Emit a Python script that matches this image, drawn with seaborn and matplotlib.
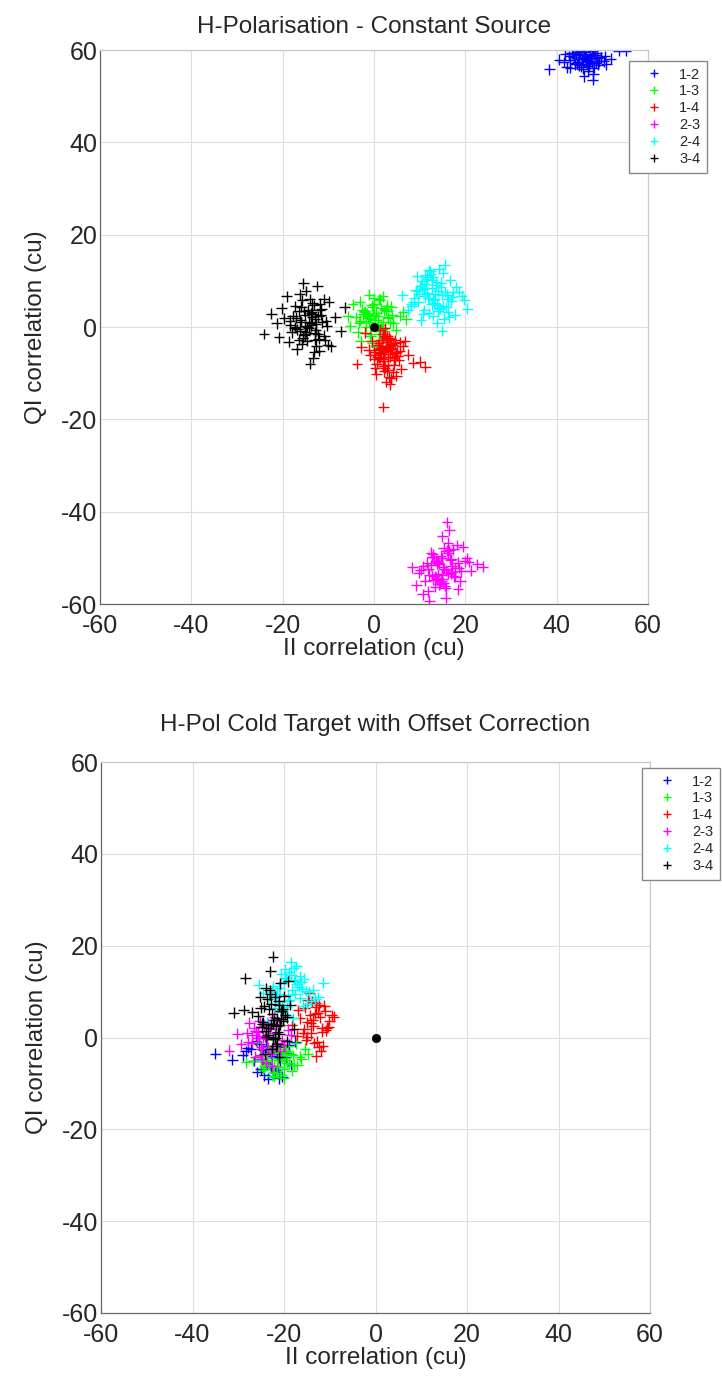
import pandas as pd
import numpy as np
import matplotlib.pyplot as plt
import seaborn as sns

# pair labels and MATLAB-style colours
pairs = ['1-2', '1-3', '1-4', '2-3', '2-4', '3-4']
pair_colors = {'1-2': '#0000ff', '1-3': '#00ff00', '1-4': '#ff0000',
               '2-3': '#ff00ff', '2-4': '#00ffff', '3-4': '#000000'}

# ---- top panel: H-Polarisation, constant source ----
top_12_x = [46.2, 44.1, 48.5, 42.8, 50.3, 45.4, 47.7, 40.6, 49.1, 43.5,
            46.9, 51.8, 44.8, 47.2, 38.4, 48.0, 45.9, 53.6, 43.0, 46.5,
            49.7, 41.9, 47.9, 44.4, 45.1, 50.9, 46.0, 42.2, 48.8, 55.2,
            45.8, 47.3, 44.6, 48.9, 46.4, 43.7, 47.8, 45.2, 49.6, 46.9,
            44.0, 48.2, 45.5, 47.0, 42.9, 46.1, 48.6, 44.9, 47.5, 45.0,
            50.6, 46.7, 43.3, 47.9, 45.7, 49.2, 46.3, 44.3, 48.1, 41.5]
top_12_y = [58.3, 57.1, 59.0, 58.7, 57.6, 56.4, 58.9, 57.9, 56.8, 59.3,
            55.5, 58.1, 59.6, 57.4, 55.8, 54.9, 58.5, 59.8, 56.1, 57.8,
            58.4, 59.1, 53.6, 57.0, 59.7, 56.9, 54.3, 56.3, 59.4, 59.9,
            58.0, 58.8, 57.5, 58.2, 59.2, 58.6, 57.2, 59.5, 58.4, 57.7,
            56.9, 59.0, 58.1, 56.5, 57.8, 59.6, 57.3, 58.9, 58.3, 56.7,
            58.7, 57.0, 59.3, 59.8, 55.9, 57.6, 58.5, 59.1, 56.2, 57.4]

top_13_x = [0.3, -2.1, 1.8, -4.0, 2.9, -0.8, 4.2, -3.1, 1.1, -1.5,
            3.5, -5.2, 0.0, 2.4, -2.6, 5.6, -0.4, 1.6, -3.6, 3.0,
            -1.0, 0.9, 6.4, -4.6, 2.0, -1.8, 4.8, -0.1, 1.3, -2.9,
            3.8, 0.6, -5.8, 2.7, -0.6, 7.1, 1.9, -3.3, 0.4, -1.3,
            0.8, -1.2, 2.2, -0.3, 1.5, -2.4, 3.1, 0.1, -1.7, 2.6,
            -0.9, 1.0, -3.0, 0.5, 2.0, -0.5, 4.0, -2.0, 1.2, -1.1]
top_13_y = [1.5, 3.2, -0.4, 2.1, 4.6, -1.9, 0.8, 5.5, -2.7, 2.9,
            1.0, 0.2, 6.3, -0.9, 3.8, 2.4, -3.4, 4.1, -1.1, 1.9,
            7.0, 0.5, 3.3, 4.9, -2.2, 1.2, -0.6, 2.6, 5.9, -3.0,
            4.4, 0.0, 2.3, 3.5, -1.5, 1.7, 6.7, 0.9, -4.1, 2.0,
            2.4, 1.1, 3.6, 4.3, 0.5, 2.8, 2.2, 5.0, 0.0, 3.9,
            1.8, 6.1, 1.4, 3.0, 1.0, 4.7, 2.7, 3.4, -0.8, 2.5]

top_14_x = [2.5, 4.1, 0.8, 3.6, -1.2, 5.4, 1.9, 3.0, 6.3, -0.5,
            2.2, 4.8, 1.4, 7.5, 3.3, -2.8, 2.9, 5.0, 0.2, 4.4,
            1.1, 8.6, 2.7, -1.9, 3.9, 6.0, 1.6, 2.0, 4.6, -3.7,
            3.1, 0.5, 5.7, 2.4, 10.1, 1.8, 3.5, -0.9, 4.2, 2.6,
            11.2, 1.0, 3.8, 6.8, 0.0, 2.3, 1.3, 4.9,
            2.1, 3.4, 1.2, 4.0, 2.8, 0.6, 3.7, 1.7, 5.1, 2.4,
            3.1, 0.9, 4.5, 1.5, 2.9, 3.8, 0.3, 2.6, 4.3, 1.9,
            3.2, 5.6, 1.0, 2.2, 3.6, 0.1, 4.7, 2.0, 3.0, 1.4]
top_14_y = [-5.1, -3.8, -6.4, -2.6, -4.9, -7.2, -1.5, -8.3, -4.0, -3.1,
            -9.6, -5.7, -0.6, -6.0, -10.8, -4.4, -2.0, -5.3, -8.9, -6.8,
            -3.5, -7.7, -11.9, -1.2, -4.7, -9.1, -5.9, -17.3, -2.9, -8.0,
            -6.5, -10.2, -3.3, -0.2, -7.5, -4.2, -12.4, -6.1, -9.8, -2.4,
            -8.6, -5.0, -11.1, -3.0, -7.0, -1.9, -4.5, -10.5,
            -5.4, -4.1, -6.7, -5.8, -3.2, -7.9, -4.6, -2.8, -6.2, -8.8,
            -5.0, -3.9, -7.1, -5.6, -9.4, -3.6, -6.0, -4.4, -8.2, -6.9,
            -2.3, -5.2, -4.8, -7.4, -6.4, -5.3, -3.4, -8.5, -4.0, -6.6]

top_23_x = [15.4, 13.1, 17.8, 11.6, 19.5, 14.3, 16.7, 9.8, 18.4, 12.5,
            21.2, 15.0, 13.8, 17.1, 10.7, 20.3, 14.8, 16.2, 8.4, 18.9,
            12.9, 15.7, 22.6, 11.2, 17.4, 14.0, 19.9, 13.4, 16.5, 10.2,
            18.1, 15.2, 12.1, 23.8, 14.6, 17.0, 11.9, 16.0, 20.8, 13.6,
            15.9, 9.3, 18.6, 14.9, 12.7,
            15.1, 13.6, 16.8, 14.2, 17.5, 12.8, 15.8, 14.7, 18.3, 13.3,
            16.2, 11.9, 15.5, 14.0, 17.0, 12.4, 16.5, 15.0, 19.1, 13.9,
            14.5, 16.9, 12.1, 15.3, 17.8, 13.0, 14.9, 16.1, 10.8, 15.7]
top_23_y = [-52.3, -49.8, -54.1, -51.0, -47.6, -55.7, -50.4, -53.2, -56.8, -48.9,
            -52.8, -45.3, -54.6, -51.7, -57.9, -50.1, -53.8, -46.7, -52.0, -55.1,
            -49.2, -58.6, -51.4, -54.9, -48.1, -53.5, -50.7, -56.2, -44.0, -52.6,
            -47.2, -55.4, -59.3, -51.9, -49.5, -53.0, -57.2, -42.3, -50.9, -54.3,
            -48.4, -55.9, -52.2, -50.0, -53.7,
            -52.0, -50.6, -53.4, -51.3, -54.0, -49.9, -52.7, -55.0, -51.0, -53.9,
            -49.0, -52.4, -56.1, -50.8, -53.1, -51.6, -48.3, -54.5, -52.9, -51.2,
            -55.6, -50.3, -53.6, -47.8, -52.1, -54.8, -50.0, -53.3, -51.8, -56.6]

top_24_x = [13.2, 15.8, 10.9, 17.3, 12.0, 14.6, 8.7, 16.4, 11.5, 19.2,
            13.9, 9.8, 15.1, 12.6, 18.0, 7.4, 14.2, 16.9, 10.3, 13.6,
            20.4, 11.8, 15.5, 9.1, 17.7, 12.9, 14.9, 6.2, 16.1, 11.2,
            18.6, 13.4, 10.6, 15.3, 12.3, 19.8, 14.0, 8.2, 16.7, 13.0,
            11.0, 17.1, 14.4, 9.5, 15.9,
            12.1, 10.5, 13.9, 11.3, 14.8, 9.7, 12.8, 11.0, 15.6, 10.1,
            13.2, 12.4, 8.8, 14.3, 11.7, 13.6, 10.8, 16.2, 12.6, 9.4,
            14.0, 11.5, 13.0, 10.4, 15.2, 12.0, 8.2, 13.4, 11.1, 14.6]
top_24_y = [6.1, 4.3, 8.2, 7.5, 3.0, 9.6, 5.4, 2.1, 10.4, 6.8,
            0.9, 7.2, 11.8, 4.9, 8.7, 3.6, 12.6, 5.7, 1.5, 9.1,
            4.0, 6.4, 13.5, 8.0, 2.7, 10.9, -0.8, 6.9, 3.3, 11.3,
            7.7, 5.0, 9.9, 1.8, 12.1, 5.9, 7.9, 4.6, 10.1, 2.5,
            8.5, 6.6, 3.9, 11.0, 7.0,
            6.4, 8.1, 4.8, 9.3, 6.9, 5.5, 10.2, 3.7, 7.6, 8.8,
            5.2, 11.4, 6.2, 4.1, 7.3, 9.7, 2.9, 6.0, 8.4, 7.9,
            3.4, 10.8, 5.8, 9.0, 4.5, 12.3, 5.0, 7.1, 6.7, 8.6]

top_34_x = [-14.2, -12.1, -16.5, -10.3, -18.0, -13.5, -15.8, -11.7, -19.6, -9.4,
            -14.9, -12.8, -17.2, -13.1, -8.5, -21.3, -15.2, -11.0, -16.9, -13.8,
            -24.1, -12.4, -17.8, -10.8, -14.6, -20.2, -7.3, -15.5, -13.3, -18.7,
            -11.9, -16.1, -9.9, -22.5, -14.0, -12.7, -19.1, -15.0, -6.4, -17.4,
            -13.6, -10.1, -16.3, -20.8, -14.4, -11.4, -18.3, -12.0, -15.7, -13.0,
            -13.8, -15.1, -12.3, -16.0, -14.7, -11.5, -17.3, -13.2, -15.6, -12.9,
            -14.1, -16.8, -10.9, -13.5, -15.3, -12.6, -18.4, -14.3, -11.8, -16.4,
            -13.9, -15.9, -12.2, -14.9, -17.0, -13.0, -10.5, -15.0, -13.6, -16.2]
top_34_y = [1.2, -2.5, 3.4, 0.3, -1.1, 5.2, -3.6, 2.7, 1.9, -4.2,
            7.8, -0.7, 4.5, -5.3, 2.1, 0.8, -1.8, 6.1, -4.8, 3.0,
            -1.5, 8.9, 2.4, -2.9, 0.0, 4.1, -0.9, 9.5, -6.7, -3.2,
            3.8, 1.5, 5.5, 2.9, -7.9, 0.6, 6.7, -1.4, 4.3, -0.2,
            2.2, -3.9, 7.1, -2.2, 3.6, 1.0, 0.4, -5.1, 5.8, -1.2,
            0.4, 2.6, -1.6, 1.1, -3.0, 3.9, 0.0, 4.8, -2.3, 1.7,
            6.0, -0.5, -1.9, 2.9, 3.5, -4.0, 1.4, -0.1, 5.1, -2.7,
            0.9, 4.4, 2.3, -1.0, 2.0, -2.8, 1.3, 0.2, 3.2, -0.8]

# ---- bottom panel: H-Pol cold target with offset correction ----
bot_12_x = [-23.1, -20.8, -25.4, -21.9, -27.2, -19.6, -24.3, -22.5, -29.0, -18.4,
            -23.8, -26.1, -21.2, -24.9, -35.0, -20.1, -22.8, -31.3, -25.8, -19.0,
            -23.5, -27.9, -21.6, -24.0, -17.5,
            -22.7, -24.5, -21.3, -26.6, -20.4, -23.9, -28.4, -22.0, -25.1, -19.5]
bot_12_y = [-3.2, -5.0, -1.4, -7.1, -2.6, -4.3, -8.2, 0.1, -3.9, -6.0,
            -5.8, -0.7, -8.9, -4.6, -3.5, -2.0, -6.6, -4.8, -7.5, -1.6,
            -9.0, -2.3, -3.7, -5.4, -0.9,
            -4.0, -2.8, -6.4, -5.1, -8.5, -1.9, -3.0, -7.6, -6.9, -3.4]

bot_13_x = [-21.2, -18.9, -23.6, -20.0, -25.3, -17.4, -22.4, -19.5, -26.8, -21.8,
            -16.2, -24.1, -20.6, -23.0, -18.1, -28.3, -21.5, -19.2, -22.9, -15.4,
            -24.7, -20.3, -17.8, -22.1, -26.0, -19.9, -23.3, -21.0, -14.8, -25.0,
            -20.4, -22.2, -18.6, -21.6, -19.3, -23.8, -20.9, -17.1, -22.7, -19.8,
            -24.4, -21.3, -18.3, -20.0, -16.6]
bot_13_y = [-3.4, -5.6, -2.1, -6.8, -4.0, -1.3, -7.5, -3.0, -5.1, -0.6,
            -4.7, -6.2, -8.1, -2.7, -3.8, -5.4, -6.5, -1.9, -4.4, -2.4,
            -7.0, -3.2, -5.9, -8.6, -1.0, -4.9, -6.0, -2.9, -3.5, -5.2,
            -4.5, -6.3, -3.6, -7.8, -5.5, -4.9, -2.6, -6.0, -8.3, -3.1,
            -6.6, -5.0, -7.2, -8.9, -4.2]

bot_14_x = [-14.1, -12.6, -15.8, -11.2, -13.4, -16.5, -10.3, -14.8, -12.0, -17.2,
            -13.0, -9.6, -15.2, -11.8, -14.5, -16.9, -12.9, -10.8, -13.7, -15.5,
            -11.5, -14.0, -18.3, -12.3, -9.1,
            -13.6, -12.2, -14.9, -11.0, -13.1, -15.6, -12.7, -10.1, -14.3, -11.6,
            -13.9, -12.4, -15.0, -10.6, -13.3]
bot_14_y = [3.1, 5.4, 1.0, 6.9, -1.2, 4.2, 2.3, 8.1, -2.9, 0.4,
            7.5, 4.8, -0.5, 2.0, 9.6, 5.9, -4.1, 1.6, 3.8, 6.4,
            -1.8, 0.9, 2.7, 7.0, 4.5,
            2.5, 4.4, 0.2, 5.8, 6.6, 1.8, -0.9, 3.6, 4.9, 1.2,
            7.8, -2.0, 3.3, 2.1, 5.2]

bot_23_x = [-24.2, -21.8, -26.5, -22.9, -28.1, -20.4, -25.3, -23.4, -30.2, -19.1,
            -24.8, -27.0, -22.2, -25.9, -32.0, -21.1, -23.9, -26.2, -29.3, -20.8,
            -24.5, -27.6, -22.6, -18.5, -25.0,
            -23.7, -25.6, -22.4, -26.9, -24.3, -21.5, -25.1, -27.8, -23.0, -24.9,
            -22.0, -26.3, -23.5, -20.0, -25.5]
bot_23_y = [0.3, -1.8, 2.1, -3.5, 1.0, -0.6, 3.6, -2.4, 0.8, 1.7,
            -4.6, -1.1, 4.5, -0.2, -2.9, 2.8, -5.5, 1.4, -1.5, -3.0,
            0.0, 3.2, -6.3, 0.6, -2.0,
            -0.4, 1.3, -2.2, 0.5, 2.6, -1.3, -3.8, -0.9, 1.9, -2.6,
            0.9, -4.2, 3.1, -1.6, -0.1]

bot_24_x = [-19.1, -16.8, -21.4, -17.9, -23.2, -15.3, -20.2, -18.4, -24.6, -14.2,
            -19.8, -22.0, -16.2, -20.9, -12.5, -18.0, -25.5, -17.3, -21.8, -15.8,
            -19.5, -23.8, -13.6, -18.7, -20.5, -16.5, -22.6, -11.4, -19.3, -17.6,
            -18.2, -20.1, -16.4, -19.0, -21.5, -17.2, -15.0, -19.7, -17.8, -22.4,
            -16.0, -18.9, -20.6, -14.6, -17.5, -19.4, -21.1, -15.7, -18.5, -13.2]
bot_24_y = [9.2, 11.0, 7.4, 12.6, 8.3, 10.1, 5.6, 13.7, 9.8, 7.9,
            14.9, 6.5, 12.0, 10.7, 8.8, 4.2, 11.5, 15.6, 9.0, 6.9,
            12.9, 3.4, 10.4, 8.1, 7.0, 13.3, 10.0, 11.9, 5.0, 9.5,
            10.3, 12.1, 8.6, 14.2, 9.5, 11.6, 7.3, 13.0, 15.1, 11.2,
            10.5, 8.0, 13.8, 9.9, 12.4, 6.6, 10.8, 12.8, 16.4, 8.4]

bot_34_x = [-22.1, -20.3, -24.0, -21.2, -25.6, -19.4, -23.1, -21.7, -26.9, -18.6,
            -22.7, -24.8, -20.8, -23.6, -31.0, -19.9, -22.4, -28.5, -21.0, -24.4,
            -17.8, -23.0, -20.6, -25.2, -21.5, -28.8, -22.9, -19.1, -24.2, -21.9,
            -21.6, -23.4, -20.5, -22.8, -24.6, -21.0, -23.0, -19.8, -22.3, -25.1,
            -20.9, -23.7, -21.4, -22.6, -24.0, -20.2, -23.2, -21.8, -19.3, -22.0,
            -24.9, -21.2, -23.9, -20.7, -22.5]
bot_34_y = [3.8, 6.2, 1.4, 8.0, 4.6, -0.8, 10.3, 2.5, 5.5, 7.1,
            -2.4, 3.0, 11.8, 0.6, 5.4, 9.0, 17.6, 12.9, -4.3, 6.8,
            1.9, 14.4, 4.1, 8.9, -1.5, 6.0, 2.8, 12.2, -3.6, 0.0,
            4.2, 2.0, 5.8, 7.4, 3.3, 0.8, 9.4, 4.9, -0.3, 6.5,
            2.7, 8.4, 1.1, 5.1, 10.8, 3.6, 6.1, -1.9, 4.4, 8.9,
            2.2, 7.0, 0.2, 5.7, 3.0]

# reference point at the origin
origin_x = [0.0]
origin_y = [0.0]

ticks = [-60, -40, -20, 0, 20, 40, 60]


def build_frame(xs, ys):
    parts = []
    for name, x, y in zip(pairs, xs, ys):
        parts.append(pd.DataFrame({'x': x, 'y': y, 'pair': name}))
    return pd.concat(parts, ignore_index=True)


top_df = build_frame([top_12_x, top_13_x, top_14_x, top_23_x, top_24_x, top_34_x],
                     [top_12_y, top_13_y, top_14_y, top_23_y, top_24_y, top_34_y])
bot_df = build_frame([bot_12_x, bot_13_x, bot_14_x, bot_23_x, bot_24_x, bot_34_x],
                     [bot_12_y, bot_13_y, bot_14_y, bot_23_y, bot_24_y, bot_34_y])

sns.set_style("whitegrid")
plt.rcParams['font.family'] = ['Liberation Sans', 'DejaVu Sans']
plt.rcParams['axes.unicode_minus'] = False

fig = plt.figure(figsize=(7.22, 13.76), dpi=100)
ax_top = fig.add_axes([0.1385, 0.561, 0.759, 0.4026])
ax_bot = fig.add_axes([0.1399, 0.0458, 0.7604, 0.4004])


def style_panel(ax, df, title, title_pad, legend_loc, legend_anchor):
    sns.scatterplot(data=df, x='x', y='y', hue='pair', palette=pair_colors,
                    hue_order=pairs, marker='+', s=60, linewidth=1.0, ax=ax)
    sns.scatterplot(x=origin_x, y=origin_y, color='black', s=36,
                    edgecolor='black', ax=ax, legend=False)
    ax.set_xlim(-60, 60)
    ax.set_ylim(-60, 60)
    ax.set_xticks(ticks)
    ax.set_yticks(ticks)
    ax.grid(True, color='#dedede', linewidth=0.8)
    ax.tick_params(direction='in', length=4, color='#666666', labelsize=18)
    ax.tick_params(axis='x', pad=7)
    ax.tick_params(axis='y', pad=2)
    for side in ['left', 'bottom']:
        ax.spines[side].set_color('#666666')
    for side in ['top', 'right']:
        ax.spines[side].set_color('#c8c8c8')
    for sp in ax.spines.values():
        sp.set_linewidth(0.9)
    ax.set_title(title, fontsize=17.5, pad=title_pad)
    ax.set_xlabel('II correlation (cu)', fontsize=17.5, labelpad=0)
    ax.set_ylabel('QI correlation (cu)', fontsize=17.5, labelpad=10)
    handles, labels = ax.get_legend_handles_labels()
    ax.legend(handles, labels, loc=legend_loc, bbox_to_anchor=legend_anchor,
              bbox_transform=fig.transFigure, borderaxespad=0, fontsize=10.5,
              frameon=True, fancybox=False, framealpha=1,
              edgecolor='#888888', handlelength=2.6, handletextpad=0.4,
              borderpad=0.45, labelspacing=0.2, markerscale=0.7)


style_panel(ax_top, top_df, 'H-Polarisation - Constant Source', 12,
            'upper left', (0.871, 0.9557))
style_panel(ax_bot, bot_df, 'H-Pol Cold Target with Offset Correction', 22,
            'upper right', (0.997, 0.4419))

fig.savefig('out.png', dpi=100)
